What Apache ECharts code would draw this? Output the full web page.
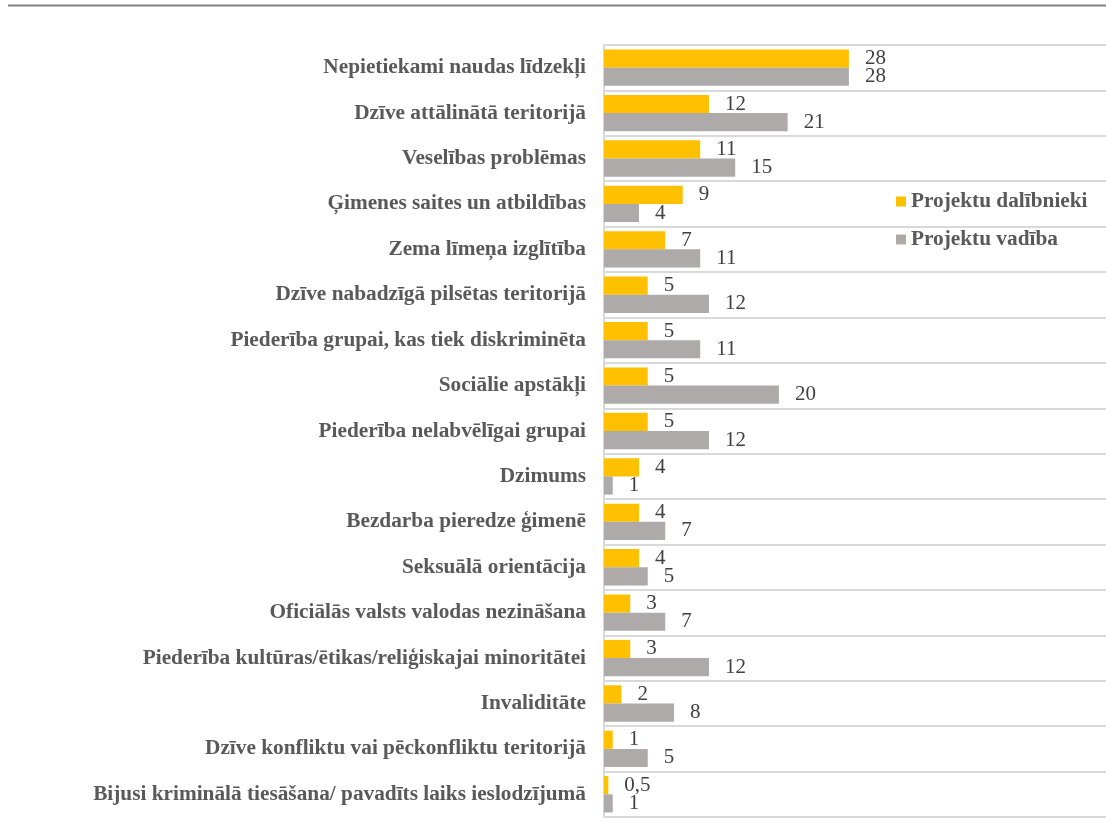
<!DOCTYPE html>
<html>
<head>
<meta charset="utf-8">
<script src="https://cdn.jsdelivr.net/npm/echarts@6/dist/echarts.min.js"></script>
<style>
html,body{margin:0;padding:0;background:#fff;}
#chart{width:1106px;height:839px;}
</style>
</head>
<body>
<div id="chart"></div>
<script>
var categories = [
  "Nepietiekami naudas līdzekļi",
  "Dzīve attālinātā teritorijā",
  "Veselības problēmas",
  "Ģimenes saites un atbildības",
  "Zema līmeņa izglītība",
  "Dzīve nabadzīgā pilsētas teritorijā",
  "Piederība grupai, kas tiek diskriminēta",
  "Sociālie apstākļi",
  "Piederība nelabvēlīgai grupai",
  "Dzimums",
  "Bezdarba pieredze ģimenē",
  "Seksuālā orientācija",
  "Oficiālās valsts valodas nezināšana",
  "Piederība kultūras/ētikas/reliģiskajai minoritātei",
  "Invaliditāte",
  "Dzīve konfliktu vai pēckonfliktu teritorijā",
  "Bijusi kriminālā tiesāšana/ pavadīts laiks ieslodzījumā"
];
var seriesNames = ["Projektu dalībnieki", "Projektu vadība"];
var dalibnieki = [28, 12, 11, 9, 7, 5, 5, 5, 5, 4, 4, 4, 3, 3, 2, 1, 0.5];
var vadiba = [28, 21, 15, 4, 11, 12, 11, 20, 12, 1, 7, 5, 7, 12, 8, 5, 1];

var chart = echarts.init(document.getElementById('chart'));
var serif = '"Liberation Serif","Times New Roman",serif';
var labelCfg = {
  show: true,
  position: 'right',
  distance: 16,
  fontFamily: serif,
  fontSize: 21,
  color: '#404040',
  lineHeight: 19,
  formatter: function (p) { return String(p.value).replace('.', ','); }
};
chart.setOption({
  animation: false,
  backgroundColor: '#fff',
  graphic: [{
    type: 'line',
    shape: { x1: 8, y1: 5.5, x2: 1106, y2: 5.5 },
    style: { stroke: '#808080', lineWidth: 2 }
  }],
  legend: {
    orient: 'vertical',
    left: 891,
    top: 186,
    itemWidth: 10,
    itemHeight: 10,
    itemGap: 17,
    icon: 'rect',
    textStyle: {
      fontFamily: serif,
      fontWeight: 'bold',
      fontSize: 21.3,
      color: '#595959'
    },
    data: seriesNames
  },
  grid: { left: 604, right: 0, top: 45, bottom: 22, containLabel: false },
  xAxis: {
    type: 'value',
    min: 0,
    max: 57.4,
    show: false,
    splitLine: { show: false }
  },
  yAxis: {
    type: 'category',
    inverse: true,
    data: categories,
    axisTick: { show: false },
    axisLine: { show: true, lineStyle: { color: '#D9D9D9', width: 2 } },
    splitLine: { show: true, lineStyle: { color: '#D9D9D9', width: 2 } },
    axisLabel: {
      margin: 18,
      fontFamily: serif,
      fontWeight: 'bold',
      fontSize: 21.3,
      color: '#595959'
    }
  },
  series: [
    {
      name: seriesNames[0],
      type: 'bar',
      data: dalibnieki,
      barGap: '0%',
      barCategoryGap: '20%',
      itemStyle: { color: '#FFC000' },
      label: labelCfg
    },
    {
      name: seriesNames[1],
      type: 'bar',
      data: vadiba,
      barGap: '0%',
      barCategoryGap: '20%',
      itemStyle: { color: '#AEAAAA' },
      label: labelCfg
    }
  ]
});
</script>
</body>
</html>
